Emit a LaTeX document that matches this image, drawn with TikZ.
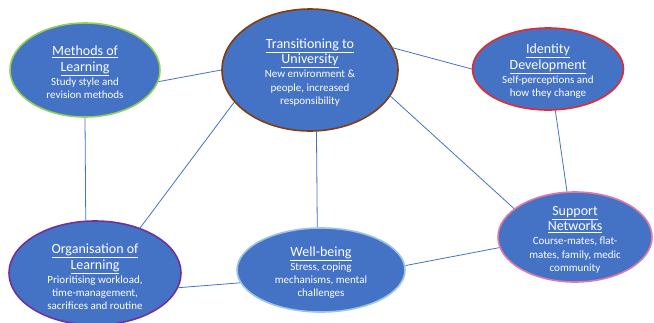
\documentclass[tikz,border=0pt]{standalone}
\usepackage{fontspec}
\setmainfont{Carlito}
\usetikzlibrary{shapes.geometric,backgrounds}
\definecolor{fillblue}{RGB}{68,114,196}
\definecolor{lineblue}{RGB}{68,114,196}
\definecolor{greenb}{RGB}{146,208,80}
\definecolor{brownb}{RGB}{132,60,12}
\definecolor{redb}{RGB}{232,40,45}
\definecolor{pinkb}{RGB}{226,120,170}
\definecolor{lightb}{RGB}{157,195,230}
\definecolor{purpleb}{RGB}{112,48,160}
\newcommand{\tit}[1]{{\fontsize{14}{15.6}\selectfont\underline{#1}}}
\newcommand{\up}[1]{\rule{0pt}{#1}}
\begin{document}
\begin{tikzpicture}[x=1pt,y=-1pt,
  bub/.style={ellipse,fill=fillblue,line width=1.6pt,text=white,align=center,inner sep=-8pt,
    font=\fontsize{11}{13.3}\selectfont},
  link/.style={draw=lineblue,line width=0.8pt}]
\lineskiplimit=-100pt\relax
\useasboundingbox (0,0) rectangle (654,322);
\node[bub,draw=greenb,minimum width=150pt,minimum height=94pt] (meth) at (85,70)
  {\up{14.5pt}\tit{Methods of}\\[2.3pt]\tit{Learning}\\[0.7pt]Study style and\\revision methods};
\node[bub,draw=brownb,minimum width=176pt,minimum height=122pt] (trans) at (310,70)
  {\up{14.5pt}\tit{Transitioning to}\\[2.3pt]\tit{University}\\[0.7pt]New environment \&\\people, increased\\responsibility};
\node[bub,draw=redb,minimum width=151pt,minimum height=82pt] (iden) at (548,69)
  {\up{14.5pt}\tit{Identity}\\[2.3pt]\tit{Development}\\[0.7pt]Self-perceptions and\\how they change};
\node[bub,draw=pinkb,minimum width=154pt,minimum height=90pt] (supp) at (575,237)
  {\up{14.5pt}\tit{Support}\\[2.3pt]\tit{Networks}\\[0.7pt]Course-mates, flat-\\mates, family, medic\\community};
\node[bub,draw=lightb,minimum width=168pt,minimum height=84pt] (well) at (321,270)
  {\up{14.5pt}\tit{Well-being}\\[0.7pt]Stress, coping\\mechanisms, mental\\challenges};
\node[bub,draw=purpleb,minimum width=172pt,minimum height=104pt] (orga) at (95,273)
  {\up{17.5pt}\tit{Organisation of}\\[2.3pt]\tit{Learning}\\[0.7pt]Prioritising workload,\\time-management,\\sacrifices and routine};
\begin{scope}[on background layer]
\draw[link] (meth.-9) -- (trans.180);
\draw[link] (meth.-90) -- (orga.100);
\draw[link] (trans.203) -- (orga.45);
\draw[link] (trans.-84) -- (well.95);
\draw[link] (trans.15) -- (iden.180);
\draw[link] (trans.-18) -- (supp.155);
\draw[link] (iden.-80) -- (supp.100);
\draw[link] (orga.-10) -- (well.189);
\draw[link] (well.3) -- (supp.188);
\end{scope}
\end{tikzpicture}
\end{document}
